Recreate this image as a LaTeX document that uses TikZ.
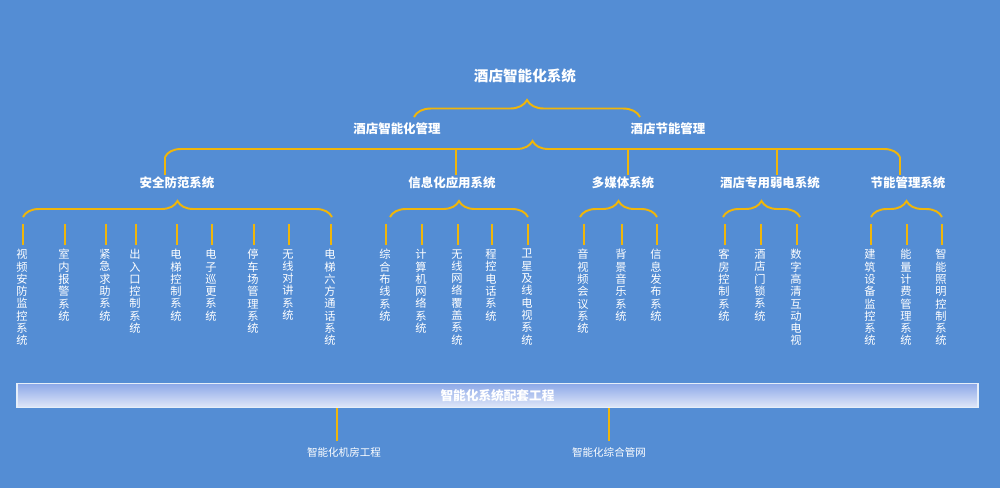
\documentclass[tikz,border=0pt]{standalone}
\usepackage{fontspec}
\newfontfamily\cjk{Noto Sans CJK SC}
\usetikzlibrary{decorations.pathreplacing}
\XeTeXlinebreaklocale "zh"
\XeTeXlinebreakskip=0pt plus 1pt
\definecolor{bgblue}{RGB}{84,141,212}
\definecolor{gold}{RGB}{240,182,10}
\definecolor{bartop}{RGB}{140,168,232}
\definecolor{barbot}{RGB}{224,231,248}
\tikzset{
  title/.style={text=white, font=\cjk\bfseries\fontsize{8.3}{10}\selectfont, inner sep=1pt},
  head/.style={text=white, font=\cjk\bfseries\fontsize{7.1}{9}\selectfont, inner sep=1pt},
  leaf/.style={text=white, font=\cjk\fontsize{6.4}{7}\selectfont, text width=7pt, align=center, anchor=north, inner xsep=0pt, inner ysep=0.08cm},
  foot/.style={text=white, font=\cjk\fontsize{6}{8}\selectfont, inner sep=1pt},
  bar/.style={draw=white!85!bgblue, line width=0.8pt, top color=bartop, bottom color=barbot, minimum width=19.22cm, minimum height=0.48cm, text=white, font=\cjk\bfseries\fontsize{7.2}{9}\selectfont},
  link/.style={draw=gold, line width=1.1pt},
  brace/.style={link, decorate, decoration={brace, amplitude=#1}},
  brace/.default=3.2mm
}

\begin{document}
\begin{tikzpicture}[x=0.02cm, y=-0.02cm]
\useasboundingbox[fill=bgblue] (0,0) rectangle (1000,488);

% top levels
\node[title] (sys) at (525,76) {酒店智能化系统};
\node[head] (mgmt) at (397,129) {酒店智能化管理};
\node[head] (save) at (668,129) {酒店节能管理};
\coordinate (b0l) at (414,117);
\coordinate (b0r) at (640,117);
\draw[brace=3.4mm] (b0l) -- (b0r);

% systems
\node[head] (sec) at (177,183) {安全防范系统};
\node[head] (info) at (452,183) {信息化应用系统};
\node[head] (media) at (623,183) {多媒体系统};
\node[head] (weak) at (770,183) {酒店专用弱电系统};
\node[head] (energy) at (908,183) {节能管理系统};
\coordinate (b1l) at (165,157);
\coordinate (b1r) at (900,157);
\draw[brace] (b1l) -- (b1r);
\draw[link] (b1l) -- (b1l |- sec.north);
\draw[link] (b1r) -- (b1r |- energy.north);
\coordinate (d1) at (456,149);
\coordinate (d2) at (628,149);
\coordinate (d3) at (777,149);
\draw[link] (d1) -- (d1 |- info.north);
\draw[link] (d2) -- (d2 |- media.north);
\draw[link] (d3) -- (d3 |- weak.north);

% braces over the leaves
\draw[brace] (23,217) -- (332,217);
\draw[brace] (390,217) -- (528,217);
\draw[brace] (580,217) -- (657,217);
\draw[brace] (723,217) -- (800,217);
\draw[brace] (871,217) -- (942,217);

% leaves
\foreach \x/\t [count=\i] in {23/视频安防监控系统, 65/室内报警系统, 106/紧急求助系统, 136/出入口控制系统, 177/电梯控制系统, 212/电子巡更系统, 254/停车场管理系统, 289/无线对讲系统, 331/电梯六方通话系统,
  386/综合布线系统, 422/计算机网络系统, 458/无线网络覆盖系统, 492/程控电话系统, 528/卫星及线电视系统,
  584/音视频会议系统, 622/背景音乐系统, 657/信息发布系统,
  725/客房控制系统, 761/酒店门锁系统, 797/数字高清互动电视,
  871/建筑设备监控系统, 907/能量计费管理系统, 942/智能照明控制系统} {
  \coordinate (top\i) at (\x,224);
  \node[leaf] (leaf\i) at (\x-1,245) {\t};
  \draw[link] (top\i) -- (top\i |- leaf\i.north);
}

% supporting works
\node[bar] (kit) at (497.5,395.5) {智能化系统配套工程};
\node[foot] (room) at (344,452) {智能化机房工程};
\node[foot] (net) at (609,452) {智能化综合管网};
\coordinate (r1) at (337,441);
\coordinate (r2) at (609,441);
\draw[link] (kit.south -| r1) -- (r1);
\draw[link, line width=0.8pt] (kit.south -| r2) -- (r2);
\end{tikzpicture}
\end{document}
